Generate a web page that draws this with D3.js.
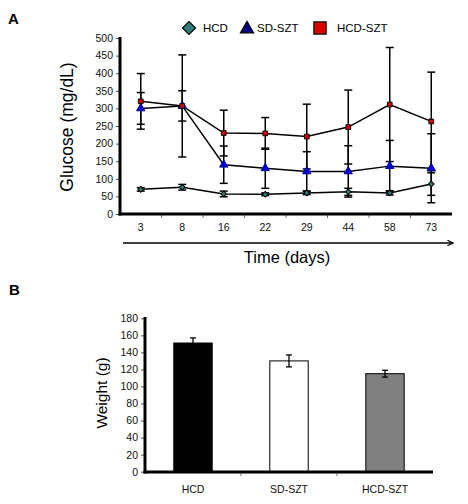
<!DOCTYPE html>
<html>
<head>
<meta charset="utf-8">
<script src="https://cdn.jsdelivr.net/npm/d3@7"></script>
<style>
  body { margin: 0; background: #fff; }
  svg { font-family: "Liberation Sans", Arial, sans-serif; }
</style>
</head>
<body>
<div id="chart"></div>
<script>
let width = 468,
    height = 504;

// panel A: glucose over time
let days = ["3", "8", "16", "22", "29", "44", "58", "73"];
let hcd = [70, 76, 57, 56, 60, 63, 60, 85];
let hcdErr = [5, 8, 8, 4, 5, 10, 6, 32];
let sdSzt = [300, 307, 140, 130, 121, 121, 136, 130];
let sdSztErr = [45, 43, 53, 57, 56, 73, 73, 98];
let hcdSzt = [320, 307, 230, 229, 220, 247, 311, 263];
let hcdSztErr = [79, 145, 65, 45, 92, 105, 162, 140];
let glucoseTicks = [0, 50, 100, 150, 200, 250, 300, 350, 400, 450, 500];

// panel B: weight
let groups = ["HCD", "SD-SZT", "HCD-SZT"];
let weight = [151, 130, 115];
let weightErr = [6, 7, 4];
let weightTicks = [0, 20, 40, 60, 80, 100, 120, 140, 160, 180];

let svg = d3.select("#chart").append("svg")
    .attr("width", width)
    .attr("height", height);

svg.append("defs").append("marker")
    .attr("id", "arrow")
    .attr("viewBox", "0 0 10 10")
    .attr("refX", 9).attr("refY", 5)
    .attr("markerWidth", 7).attr("markerHeight", 7)
    .attr("markerUnits", "userSpaceOnUse")
    .attr("orient", "auto")
    .append("path")
    .attr("d", "M1,1L9,5L1,9")
    .attr("fill", "none")
    .attr("stroke", "#000")
    .attr("stroke-width", 1.6);

// ---------- panel A ----------
let x = d3.scaleBand().domain(days).range([120, 452]);
let y = d3.scaleLinear().domain([0, 500]).range([214, 38]);

let yAxis = svg.append("g")
    .attr("transform", "translate(120,0)")
    .call(d3.axisLeft(y).tickValues(glucoseTicks).tickSize(4).tickPadding(3));
yAxis.select(".domain").remove();
yAxis.selectAll("text").attr("font-size", 10.5).attr("fill", "#111");
yAxis.selectAll("line").attr("stroke", "#555");

let xAxis = svg.append("g")
    .attr("transform", "translate(0,214)")
    .call(d3.axisBottom(x).tickSize(0).tickPadding(10));
xAxis.select(".domain").remove();
xAxis.selectAll("text").attr("font-size", 10.5).attr("fill", "#111");

// ticks between categories
svg.append("g").selectAll("line")
    .data(days.slice(1))
    .enter().append("line")
    .attr("x1", d => x(d)).attr("x2", d => x(d))
    .attr("y1", 214).attr("y2", 218)
    .attr("stroke", "#777");

svg.append("line")
    .attr("x1", 120).attr("x2", 120).attr("y1", 37).attr("y2", 215.5)
    .attr("stroke", "#000").attr("stroke-width", 3);
svg.append("line")
    .attr("x1", 118.5).attr("x2", 452).attr("y1", 214).attr("y2", 214)
    .attr("stroke", "#000").attr("stroke-width", 3);

let cx = d => x(d) + x.bandwidth() / 2;

let series = [
    {name: "HCD", values: hcd, err: hcdErr, shape: "diamond", fill: "#2b7f78"},
    {name: "SD-SZT", values: sdSzt, err: sdSztErr, shape: "triangle", fill: "#0000cc"},
    {name: "HCD-SZT", values: hcdSzt, err: hcdSztErr, shape: "square", fill: "#dd0000"}
];

function symbolPath(shape, size) {
    let t = shape === "triangle" ? d3.symbolTriangle : d3.symbolSquare;
    return d3.symbol().type(t).size(size)();
}
function rot(shape) {
    return shape === "diamond" ? " rotate(45)" : "";
}

let line = d3.line()
    .x((d, i) => cx(days[i]))
    .y(d => y(d));

series.forEach(function (s) {
    svg.append("path")
        .attr("d", line(s.values))
        .attr("fill", "none")
        .attr("stroke", "#000")
        .attr("stroke-width", 1.5);
});

series.forEach(function (s) {
    let g = svg.append("g").attr("stroke", "#000").attr("stroke-width", 1.5);
    s.values.forEach(function (v, i) {
        let px = cx(days[i]);
        let top = y(v + s.err[i]), bot = y(Math.max(0, v - s.err[i]));
        g.append("line").attr("x1", px).attr("x2", px).attr("y1", top).attr("y2", bot);
        g.append("line").attr("x1", px - 4).attr("x2", px + 4).attr("y1", top).attr("y2", top);
        g.append("line").attr("x1", px - 4).attr("x2", px + 4).attr("y1", bot).attr("y2", bot);
    });
});

series.forEach(function (s) {
    let size = s.shape === "triangle" ? 30 : (s.shape === "square" ? 22 : 16);
    svg.append("g").selectAll("path")
        .data(s.values)
        .enter().append("path")
        .attr("d", symbolPath(s.shape, size))
        .attr("transform", (d, i) => "translate(" + cx(days[i]) + "," + y(d) + ")" + rot(s.shape))
        .attr("fill", s.fill)
        .attr("stroke", s.shape === "triangle" ? "#0000aa" : "#000")
        .attr("stroke-width", 1);
});

// legend
let legendX = [189, 247, 320];
let legendText = [203, 257, 337];
series.forEach(function (s, i) {
    let size = s.shape === "square" ? 150 : (s.shape === "diamond" ? 85 : 75);
    svg.append("path")
        .attr("d", symbolPath(s.shape, size))
        .attr("transform", "translate(" + legendX[i] + "," + (s.shape === "triangle" ? 29 : 28) + ")" + rot(s.shape))
        .attr("fill", s.shape === "triangle" ? "#000080" : s.fill)
        .attr("stroke", "#000")
        .attr("stroke-width", 1.2);
    svg.append("text")
        .attr("x", legendText[i]).attr("y", 32)
        .attr("font-size", 11.5)
        .text(s.name);
});

svg.append("text")
    .attr("transform", "translate(73,127) rotate(-90)")
    .attr("text-anchor", "middle")
    .attr("font-size", 17.5)
    .text("Glucose (mg/dL)");

svg.append("line")
    .attr("x1", 123).attr("x2", 453).attr("y1", 243).attr("y2", 243)
    .attr("stroke", "#000").attr("stroke-width", 1.6)
    .attr("marker-end", "url(#arrow)");

svg.append("text")
    .attr("x", 287).attr("y", 263)
    .attr("text-anchor", "middle")
    .attr("font-size", 16.5)
    .text("Time (days)");

svg.append("text")
    .attr("x", 8).attr("y", 24)
    .attr("font-size", 15).attr("font-weight", "bold")
    .text("A");

// ---------- panel B ----------
let xb = d3.scaleBand().domain(groups).range([145, 433]).paddingInner(0.6).paddingOuter(0.3);
let yb = d3.scaleLinear().domain([0, 180]).range([471.7, 318.3]);

let ybAxis = svg.append("g")
    .attr("transform", "translate(145,0)")
    .call(d3.axisLeft(yb).tickValues(weightTicks).tickSize(4).tickPadding(3));
ybAxis.select(".domain").remove();
ybAxis.selectAll("text").attr("font-size", 10.5).attr("fill", "#111");
ybAxis.selectAll("line").attr("stroke", "#555");

let xbAxis = svg.append("g")
    .attr("transform", "translate(0,472)")
    .call(d3.axisBottom(xb).tickSize(0).tickPadding(14));
xbAxis.select(".domain").remove();
xbAxis.selectAll("text").attr("font-size", 10.5).attr("fill", "#111");

svg.append("g").selectAll("line")
    .data(groups.slice(1))
    .enter().append("line")
    .attr("x1", d => xb(d) - xb.step() * 0.3)
    .attr("x2", d => xb(d) - xb.step() * 0.3)
    .attr("y1", 472).attr("y2", 476)
    .attr("stroke", "#777");

let barColors = ["#000000", "#ffffff", "#808080"];
svg.append("g").selectAll("rect")
    .data(weight)
    .enter().append("rect")
    .attr("x", (d, i) => xb(groups[i]))
    .attr("y", d => yb(d))
    .attr("width", xb.bandwidth())
    .attr("height", d => yb(0) - yb(d))
    .attr("fill", (d, i) => barColors[i])
    .attr("stroke", "#000")
    .attr("stroke-width", 1);

let eb = svg.append("g").attr("stroke", "#000").attr("stroke-width", 1.3);
weight.forEach(function (v, i) {
    let px = xb(groups[i]) + xb.bandwidth() / 2;
    let top = yb(v + weightErr[i]), bot = yb(v - weightErr[i]);
    eb.append("line").attr("x1", px).attr("x2", px).attr("y1", top).attr("y2", bot);
    eb.append("line").attr("x1", px - 3).attr("x2", px + 3).attr("y1", top).attr("y2", top);
    eb.append("line").attr("x1", px - 3).attr("x2", px + 3).attr("y1", bot).attr("y2", bot);
});

svg.append("line")
    .attr("x1", 145).attr("x2", 145).attr("y1", 317).attr("y2", 473.5)
    .attr("stroke", "#000").attr("stroke-width", 3);
svg.append("line")
    .attr("x1", 143.5).attr("x2", 433).attr("y1", 472).attr("y2", 472)
    .attr("stroke", "#000").attr("stroke-width", 3);

svg.append("text")
    .attr("transform", "translate(107,393) rotate(-90)")
    .attr("text-anchor", "middle")
    .attr("font-size", 15.5)
    .text("Weight (g)");

svg.append("text")
    .attr("x", 9).attr("y", 295)
    .attr("font-size", 15).attr("font-weight", "bold")
    .text("B");
</script>
</body>
</html>
